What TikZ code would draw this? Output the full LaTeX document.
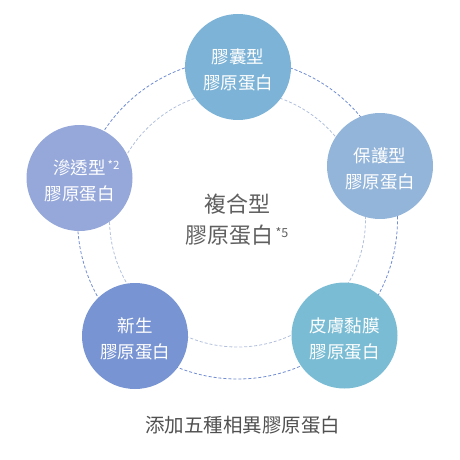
\documentclass[tikz,border=0pt]{standalone}
\usepackage{fontspec}
\setmainfont{Noto Sans CJK TC}
\definecolor{cTop}{RGB}{125,179,214}
\definecolor{cUR}{RGB}{148,181,218}
\definecolor{cUL}{RGB}{150,168,218}
\definecolor{cLL}{RGB}{120,148,210}
\definecolor{cLR}{RGB}{122,188,212}
\definecolor{outerC}{RGB}{112,140,210}
\definecolor{innerC}{RGB}{178,192,220}
\definecolor{midText}{RGB}{95,95,95}
\definecolor{capText}{RGB}{80,80,80}
\begin{document}
\begin{tikzpicture}[x=1pt,y=-1pt,
  bub/.style={circle, minimum size=106pt, inner sep=0pt},
  bubtext/.style={text=white, align=center, inner sep=0pt,
    font=\fontsize{17.5}{26}\selectfont},
  outerring/.style={draw=outerC, line width=0.8pt, dash pattern=on 3pt off 2pt},
  innerring/.style={draw=innerC, line width=0.8pt, dash pattern=on 3pt off 2pt}]
\useasboundingbox (0,0) rectangle (460,460);
\draw[outerring] (237.5,219) circle[radius=160pt];
\draw[innerring] (237.5,219) circle[radius=128pt];
\node[bub, fill=cTop] (top) at (238,67) {};
\node[bub, fill=cUR] (ur) at (380,166) {};
\node[bub, fill=cUL] (ul) at (79.5,178) {};
\node[bub, fill=cLL] (ll) at (135,336) {};
\node[bub, fill=cLR] (lr) at (344.5,335.5) {};
\node[bubtext] (topt) at ([yshift=-3pt]top.center) {膠囊型\\膠原蛋白};
\node[bubtext] (urt) at ([yshift=-3pt]ur.center) {保護型\\膠原蛋白};
\node[bubtext] (ult) at ([yshift=-3pt]ul.center) {滲透型\rlap{\raisebox{0.55ex}{\fontsize{11.5}{12}\selectfont\,*2}}\\膠原蛋白};
\node[bubtext] (llt) at ([yshift=-3pt]ll.center) {新生\\膠原蛋白};
\node[bubtext] (lrt) at ([yshift=-3pt]lr.center) {皮膚黏膜\\膠原蛋白};
\node[align=center, text=midText, font=\fontsize{22}{31}\selectfont] (mid) at (237,220)
  {複合型\\膠原蛋白\raisebox{0.5ex}{\fontsize{12.5}{13}\selectfont\,*5}};
\node[text=capText, font=\fontsize{19.5}{22}\selectfont] (cap) at (242.5,425) {添加五種相異膠原蛋白};
\end{tikzpicture}
\end{document}
